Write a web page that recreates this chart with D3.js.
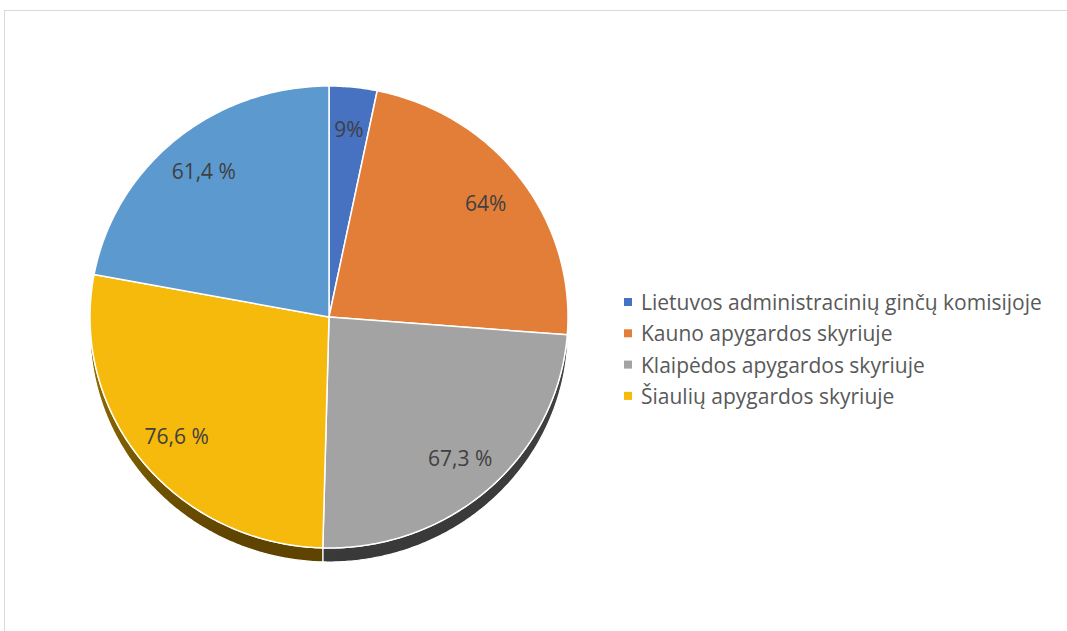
<!DOCTYPE html>
<html>
<head>
<meta charset="utf-8">
<script src="https://cdn.jsdelivr.net/npm/d3@7"></script>
<style>
  body { margin: 0; background: #fff; }
  text { font-family: "Open Sans", "Noto Sans", sans-serif; }
</style>
</head>
<body>
<div id="chart"></div>
<script>
// dati del grafico
var categories = [
  "Lietuvos administracinių ginčų komisijoje",
  "Kauno apygardos skyriuje",
  "Klaipėdos apygardos skyriuje",
  "Šiaulių apygardos skyriuje",
  null
];
var values = [9, 64, 67.3, 76.6, 61.4];
var valueLabels = ["9%", "64%", "67,3 %", "76,6 %", "61,4 %"];
var colors = ["#4672c1", "#e37e38", "#a3a3a3", "#f5ba0b", "#5b99cf"];
var sideTop = ["#2c4a80", "#9a4f1c", "#4a4a4a", "#9c7700", "#3a6890"];
var sideBottom = ["#1e3460", "#6e3610", "#383838", "#5e4400", "#2a4e70"];

var width = 1067, height = 631;
var cx = 329, cy = 317, rx = 239, ry = 231, depth = 14;

var svg = d3.select("#chart")
  .append("svg")
  .attr("width", width)
  .attr("height", height);

// bordo dell'area del grafico (esce dalla finestra a destra e in basso)
svg.append("rect")
  .attr("x", 4.5).attr("y", 10.5)
  .attr("width", 1200).attr("height", 800)
  .attr("fill", "none")
  .attr("stroke", "#d9d9d9");

var pie = d3.pie().sort(null).value(function (d) { return d; });
var arcs = pie(values);

function px(a, k) { return cx + rx * k * Math.sin(a); }
function py(a, k) { return cy - ry * k * Math.cos(a); }

var line = d3.line();

function arcPoints(a0, a1, dy) {
  var n = Math.max(2, Math.ceil((a1 - a0) / 0.01));
  return d3.range(n + 1).map(function (i) {
    var a = a0 + (a1 - a0) * i / n;
    return [px(a, 1), py(a, 1) + dy];
  });
}

// gradienti per i lati
var defs = svg.append("defs");
arcs.forEach(function (d, i) {
  var g = defs.append("linearGradient")
    .attr("id", "side" + i)
    .attr("x1", 0).attr("y1", 0).attr("x2", 0.3).attr("y2", 1);
  g.append("stop").attr("offset", "0%").attr("stop-color", sideTop[i]);
  g.append("stop").attr("offset", "100%").attr("stop-color", sideBottom[i]);
});

// lati 3D (solo la metà frontale)
var sides = svg.append("g");
arcs.forEach(function (d, i) {
  var s = Math.max(d.startAngle, Math.PI / 2);
  var e = Math.min(d.endAngle, 3 * Math.PI / 2);
  if (e <= s) return;
  var pts = arcPoints(s, e, 0).concat(arcPoints(s, e, depth).reverse());
  sides.append("path")
    .attr("d", line(pts) + "Z")
    .attr("fill", "url(#side" + i + ")")
    .attr("stroke", "#fff")
    .attr("stroke-width", 1.2)
    .attr("stroke-linejoin", "round");
});

// facce superiori
svg.append("g")
  .selectAll("path")
  .data(arcs)
  .enter()
  .append("path")
  .attr("d", function (d) {
    return line([[cx, cy]].concat(arcPoints(d.startAngle, d.endAngle, 0))) + "Z";
  })
  .attr("fill", function (d, i) { return colors[i]; })
  .attr("stroke", "#fff")
  .attr("stroke-width", 1.5)
  .attr("stroke-linejoin", "round");

// etichette dei valori
svg.append("g")
  .selectAll("text")
  .data(arcs)
  .enter()
  .append("text")
  .attr("x", function (d) { return px((d.startAngle + d.endAngle) / 2, 0.82); })
  .attr("y", function (d) { return py((d.startAngle + d.endAngle) / 2, 0.82); })
  .attr("text-anchor", "middle")
  .attr("dominant-baseline", "central")
  .attr("font-size", "21px")
  .attr("fill", "#404040")
  .text(function (d, i) { return valueLabels[i]; });

// legenda
var legendItems = categories
  .map(function (c, i) { return { name: c, color: colors[i] }; })
  .filter(function (d) { return d.name; });

var legend = svg.append("g")
  .attr("transform", "translate(624,302)");

var rows = legend.selectAll("g")
  .data(legendItems)
  .enter()
  .append("g")
  .attr("transform", function (d, i) { return "translate(0," + (i * 31.3) + ")"; });

rows.append("rect")
  .attr("x", 0).attr("y", -4)
  .attr("width", 8).attr("height", 8)
  .attr("fill", function (d) { return d.color; });

rows.append("text")
  .attr("x", 17)
  .attr("y", 0)
  .attr("dominant-baseline", "central")
  .attr("font-size", "21px")
  .attr("fill", "#595959")
  .text(function (d) { return d.name; });
</script>
</body>
</html>
